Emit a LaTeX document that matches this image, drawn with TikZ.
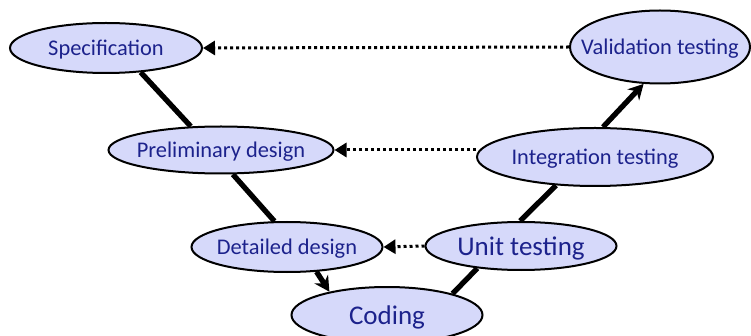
\documentclass[tikz,border=0pt]{standalone}
\usepackage{fontspec}
\setmainfont{Carlito}
\usetikzlibrary{shapes.geometric,arrows.meta,backgrounds}
\definecolor{stagefill}{RGB}{214,217,250}
\definecolor{stagetext}{RGB}{28,34,140}
\newcommand{\stlabel}[1]{\makebox[0pt]{#1}}
\tikzset{
  stage/.style={ellipse,draw,line width=2pt,fill=stagefill,text=stagetext,inner sep=0pt,text depth=0pt,font=\fontsize{22.4}{27}\selectfont},
  stagebig/.style={stage,font=\fontsize{27}{32}\selectfont},
  vline/.style={line width=5.3pt},
  varr/.style={vline,-{Stealth[length=15pt,width=16pt]}},
  backarr/.style={line width=3pt,dash pattern=on 3pt off 3pt,-{Triangle[length=12pt,width=14pt]}}
}
\begin{document}
\begin{tikzpicture}[x=1pt,y=-1pt]
  \useasboundingbox (0,0) rectangle (751,336);
  % left branch of the V
  \node[stage,minimum width=192,minimum height=50] (spec) at (106,48) {\stlabel{Specification}};
  \node[stage,minimum width=225,minimum height=47] (prelim) at (221,150) {\stlabel{Preliminary design}};
  \node[stage,minimum width=191,minimum height=50] (detail) at (287,247) {\stlabel{Detailed design}};
  \node[stagebig,minimum width=191,minimum height=56] (coding) at (387,315) {\stlabel{Coding}};
  % right branch of the V
  \node[stagebig,minimum width=191,minimum height=48] (unit) at (521,246) {\stlabel{Unit testing}};
  \node[stage,minimum width=236,minimum height=58] (integ) at (595,157) {\stlabel{Integration testing}};
  \node[stage,minimum width=180,minimum height=73] (valid) at (660,47) {\stlabel{Validation testing}};
  \begin{scope}[on background layer]
    \draw[vline] (spec.-35) -- (prelim.142);
    \draw[vline] (prelim.-64) -- (detail.116);
    \draw[varr] (detail.-40) -- (coding.158);
    \draw[vline] (coding.18) -- (unit.207);
    \draw[vline] (unit.92) -- (integ.216);
    \draw[varr] (integ.75) -- (valid.246);
  \end{scope}
  % test levels check against design levels
  \draw[backarr] (valid.west) -- (spec.east);
  \draw[backarr] (prelim.east -| integ.west) -- (prelim.east);
  \draw[backarr] (unit.west) -- (detail.east);
\end{tikzpicture}
\end{document}
